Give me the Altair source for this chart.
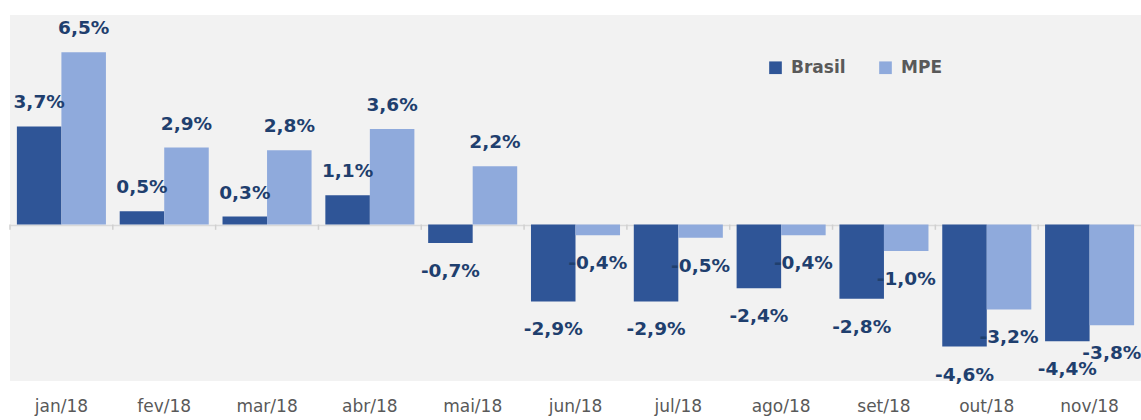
import altair as alt
import pandas as pd

months = ["jan/18", "fev/18", "mar/18", "abr/18", "mai/18", "jun/18",
          "jul/18", "ago/18", "set/18", "out/18", "nov/18"]
brasil = [3.7, 0.5, 0.3, 1.1, -0.7, -2.9, -2.9, -2.4, -2.8, -4.6, -4.4]
mpe = [6.5, 2.9, 2.8, 3.6, 2.2, -0.4, -0.5, -0.4, -1.0, -3.2, -3.8]
series = ["Brasil", "MPE"]
colors = ["#2F5597", "#8FAADC"]

rows = []
for m, b, p in zip(months, brasil, mpe):
    rows.append({"mes": m, "serie": "Brasil", "v": b, "a": 0.0, "b": -0.2})
    rows.append({"mes": m, "serie": "MPE", "v": p, "a": 0.0, "b": -0.2})
df = pd.DataFrame(rows)
df["label"] = df["v"].map(lambda v: f"{v:.1f}%".replace(".", ","))

FONT = "DejaVu Sans"
xscale = alt.Scale(domain=months, paddingInner=0.134, paddingOuter=0.067)
yscale = alt.Scale(domain=[-5.9, 7.9], nice=False, zero=False)
cscale = alt.Scale(domain=series, range=colors)
offscale = alt.Scale(domain=series, paddingInner=0, paddingOuter=0)

xenc = alt.X("mes:N", scale=xscale,
             axis=alt.Axis(title=None, labelAngle=0, domain=False, ticks=False,
                           grid=False, labelFont=FONT, labelFontSize=17,
                           labelColor="#595959", labelPadding=17))
offenc = alt.XOffset("serie:N", scale=offscale)

base = alt.Chart(df)

bars = base.mark_bar().encode(
    x=xenc,
    xOffset=offenc,
    y=alt.Y("v:Q", scale=yscale,
            axis=alt.Axis(title=None, values=[0], labels=False, ticks=False, domain=False,
                          grid=True, gridColor="#D9D9D9", gridWidth=1.5)),
    color=alt.Color("serie:N", scale=cscale,
                    legend=alt.Legend(title=None, orient="none", legendX=757, legendY=44,
                                      direction="horizontal", symbolType="square",
                                      symbolSize=160, symbolStrokeWidth=0,
                                      labelFont=FONT, labelFontSize=17,
                                      labelFontWeight="bold", labelColor="#595959",
                                      columnPadding=31, labelOffset=7)),
)

ticks = base.transform_filter("datum.serie == 'Brasil'").mark_rule(
    color="#D0D0D0", strokeWidth=1.5).encode(
    x=xenc,
    xOffset=alt.value(-6.9),
    y=alt.Y("a:Q", scale=yscale),
    y2="b:Q",
)

pos = base.transform_filter("datum.v >= 0").mark_text(
    font=FONT, fontSize=18.5, fontWeight="bold", color="#1F3F6E", baseline="middle", dy=-24
).encode(
    x=xenc,
    xOffset=offenc,
    y=alt.Y("v:Q", scale=yscale),
    text="label:N",
)

neg = base.transform_filter("datum.v < 0").mark_text(
    font=FONT, fontSize=18.5, fontWeight="bold", color="#1F3F6E", baseline="middle", dy=28
).encode(
    x=xenc,
    xOffset=offenc,
    y=alt.Y("v:Q", scale=yscale),
    text="label:N",
)

chart = alt.layer(ticks, bars, pos, neg).properties(
    width=1131, height=366,
    autosize=alt.AutoSizeParams(type="none"),
    padding={"left": 10, "top": 15, "right": 0, "bottom": 39},
    background="white",
).configure_view(fill="#F2F2F2", stroke=None)

chart.save("out.html", embed_options={"renderer": "svg", "actions": False})
